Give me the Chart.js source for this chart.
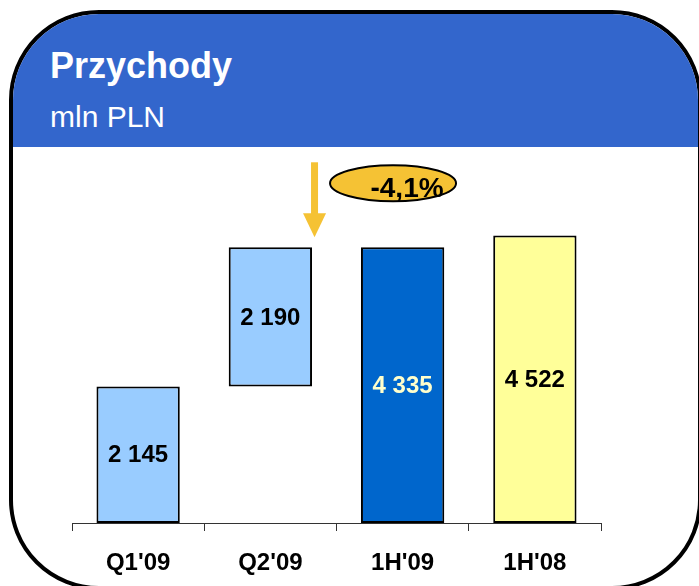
<!DOCTYPE html>
<html>
<head>
<meta charset="utf-8">
<script src="https://cdn.jsdelivr.net/npm/chart.js@4/dist/chart.umd.min.js"></script>
<style>
  html, body { margin: 0; padding: 0; width: 699px; height: 586px; overflow: hidden; background: #fff; }
  #frame {
    position: absolute; left: 9px; top: 10px; width: 693px; height: 580px;
    box-sizing: border-box; border: 4px solid #000; border-radius: 90px;
    overflow: hidden; background: #fff;
  }
  #band { position: absolute; left: 0; top: 0; right: 0; height: 133px; background: #3366CC; }
  .txt { position: absolute; left: 50px; color: #fff; font-family: "Liberation Sans", Arial, sans-serif; white-space: nowrap; }
  #title { top: 48px; font-size: 36px; line-height: 36px; font-weight: bold; }
  #sub { top: 102px; font-size: 30px; line-height: 30px; }
  #c { position: absolute; left: 0; top: 0; }
</style>
</head>
<body>
<div id="frame"><div id="band"></div></div>
<div class="txt" id="title">Przychody</div>
<div class="txt" id="sub">mln PLN</div>
<canvas id="c" width="699" height="586"></canvas>
<script>
// data
var categories = ["Q1'09", "Q2'09", "1H'09", "1H'08"];
var values = [2145, 2190, 4335, 4522];
var bases = [0, 2145, 0, 0];          // Q2 stacks on top of Q1 (waterfall)
var barColors = ["#99CCFF", "#99CCFF", "#0066CC", "#FFFF99"];
var labelColors = ["#000", "#000", "#FFFFCC", "#000"];

function fmt(n) {
  return String(n).replace(/\B(?=(\d{3})+(?!\d))/g, " ");
}

var change = ((values[2] - values[3]) / values[3] * 100).toFixed(1).replace(".", ",") + "%";

var barData = values.map(function (v, i) {
  return bases[i] ? [bases[i], bases[i] + v] : v;
});

var FONT = "'Liberation Sans', Arial, sans-serif";
Chart.defaults.font.family = FONT;

var overlay = {
  id: "overlay",
  afterDraw: function (chart) {
    var ctx = chart.ctx;
    var meta = chart.getDatasetMeta(0);
    ctx.save();
    // value labels in the middle of each bar
    ctx.font = "bold 24px " + FONT;
    ctx.textAlign = "center";
    ctx.textBaseline = "middle";
    meta.data.forEach(function (el, i) {
      ctx.fillStyle = labelColors[i];
      ctx.fillText(fmt(values[i]), el.x, (el.y + el.base) / 2 + 1);
    });

    // arrow next to Q2 bar
    var q2 = meta.data[1];
    var ax = q2.x + q2.width / 2 + 2.5;
    var tip = q2.y - 10;
    var gold = "#F5C234";
    ctx.fillStyle = gold;
    ctx.fillRect(ax - 3.5, tip - 75, 7, 52);
    ctx.beginPath();
    ctx.moveTo(ax - 11.5, tip - 24);
    ctx.lineTo(ax + 11.5, tip - 24);
    ctx.lineTo(ax, tip);
    ctx.closePath();
    ctx.fill();

    // change bubble
    var cx = ax + 78.5, cy = tip - 54;
    ctx.beginPath();
    ctx.ellipse(cx, cy, 63, 18, 0, 0, Math.PI * 2);
    ctx.fillStyle = gold;
    ctx.fill();
    ctx.lineWidth = 2;
    ctx.strokeStyle = "#000";
    ctx.stroke();
    ctx.fillStyle = "#000";
    ctx.font = "bold 28px " + FONT;
    ctx.textBaseline = "alphabetic";
    ctx.fillText(change, cx + 14, cy + 14);
    ctx.restore();
  }
};

new Chart("c", {
  type: "bar",
  data: {
    labels: categories,
    datasets: [{
      data: barData,
      backgroundColor: barColors,
      borderColor: "#000",
      borderWidth: 2,
      borderSkipped: false,
      categoryPercentage: 1,
      barPercentage: 0.63
    }]
  },
  options: {
    responsive: false,
    animation: false,
    layout: { padding: { left: 72, right: 98, top: 205, bottom: 11 } },
    plugins: { legend: { display: false }, tooltip: { enabled: false } },
    scales: {
      x: {
        afterFit: function (s) { s.height = 52; },
        grid: { drawOnChartArea: false, tickLength: 8, color: "#333", offset: true },
        border: { color: "#333", width: 1 },
        ticks: { color: "#000", padding: 18, font: { size: 24, weight: "bold" } }
      },
      y: { display: false, min: 0, max: 5000 }
    }
  },
  plugins: [overlay]
});
</script>
</body>
</html>
